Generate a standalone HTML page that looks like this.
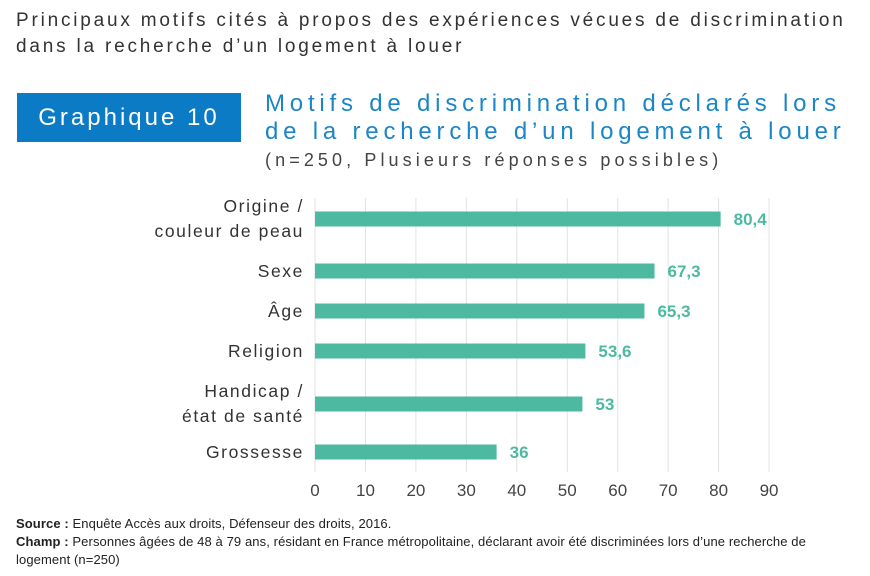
<!DOCTYPE html>
<html><head><meta charset="utf-8"><style>
body{margin:0;width:870px;height:576px;background:#fff;font-family:"Liberation Sans",sans-serif;overflow:hidden;position:relative}
.abs{position:absolute;white-space:nowrap}
</style></head><body>
<div class="abs" style="left:16px;top:8px;font-size:19px;line-height:26px;color:#333;letter-spacing:2.8px">Principaux motifs cités à propos des expériences vécues de discrimination<br>dans la recherche d’un logement à louer</div>
<div class="abs" style="left:17px;top:93px;width:224px;height:49px;background:#0a7bc4;color:#fff;font-size:24px;line-height:49px;text-align:center;letter-spacing:3px">Graphique 10</div>
<div class="abs" style="left:265px;top:90px;font-size:24px;line-height:28px;color:#1a86c8;letter-spacing:4.8px">Motifs de discrimination déclarés lors<br>de la recherche d’un logement à louer</div>
<div class="abs" style="left:265px;top:150px;font-size:18px;color:#444;letter-spacing:4.1px">(n=250, Plusieurs réponses possibles)</div>
<svg id="chart" width="870" height="576" style="position:absolute;left:0;top:0"></svg>
<div class="abs" style="left:16px;top:515px;font-size:13px;line-height:18px;color:#222;letter-spacing:0.1px"><b>Source :</b> Enquête Accès aux droits, Défenseur des droits, 2016.<br><b>Champ :</b> Personnes âgées de 48 à 79 ans, résidant en France métropolitaine, déclarant avoir été discriminées lors d’une recherche de<br>logement (n=250)</div>
<script>
const categories=[["Origine /","couleur de peau"],["Sexe"],["Âge"],["Religion"],["Handicap /","état de santé"],["Grossesse"]];
const values=[80.4,67.3,65.3,53.6,53,36];
const valueLabels=["80,4","67,3","65,3","53,6","53","36"];
const ticks=[0,10,20,30,40,50,60,70,80,90];
const centers=[219,271,311,351,404,452];
const svg=document.getElementById('chart');
const NS='http://www.w3.org/2000/svg';
const x=v=>315+v*5.045;
function mk(t,a){const e=document.createElementNS(NS,t);for(const k in a)e.setAttribute(k,a[k]);svg.appendChild(e);return e;}
ticks.forEach(t=>{
 const l=mk('line',{x1:x(t),x2:x(t),y1:198,y2:472,stroke:'#e2e2e2','stroke-width':1});
 
 
 const tx=mk('text',{x:x(t),y:496,'text-anchor':'middle','font-size':17,fill:'#444','font-family':'Liberation Sans, sans-serif'});
 tx.textContent=t;
 
 
});
values.forEach((v,i)=>{
 const c=centers[i];
 const r=mk('rect',{x:x(0),y:c-7.5,width:x(v)-x(0),height:15,fill:'#4cb9a0'});
 
 
 const vl=mk('text',{x:x(v)+13,y:c+6,'font-size':17,'font-weight':'bold',fill:'#4cb9a0','font-family':'Liberation Sans, sans-serif'});
 vl.textContent=valueLabels[i];
 
 
 const lines=categories[i];
 lines.forEach((s,j)=>{
  const y=lines.length==1?c+6:c-7+j*25;
  const t=mk('text',{x:304,y:y,'text-anchor':'end','font-size':17.5,fill:'#333','letter-spacing':'1.6','font-family':'Liberation Sans, sans-serif'});
  t.textContent=s;
  
  
 });
});
</script>
</body></html>
